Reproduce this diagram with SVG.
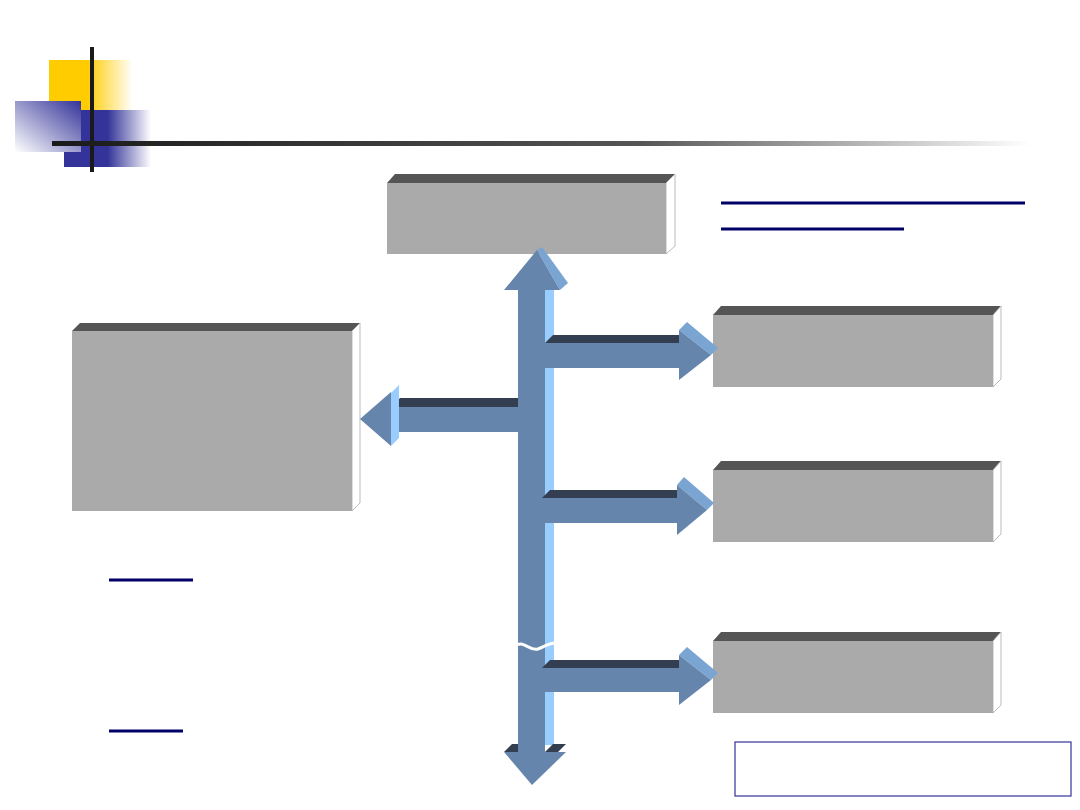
<svg xmlns="http://www.w3.org/2000/svg" width="1080" height="810" viewBox="0 0 1080 810">
<defs>
<linearGradient id="gY" x1="0" y1="0" x2="1" y2="0"><stop offset="0.45" stop-color="#FFCC00"/><stop offset="1" stop-color="#FFFFFF"/></linearGradient>
<linearGradient id="gB1" x1="1" y1="0" x2="0" y2="1"><stop offset="0" stop-color="#333399"/><stop offset="1" stop-color="#FFFFFF"/></linearGradient>
<linearGradient id="gB2" x1="0" y1="0" x2="1" y2="0"><stop offset="0.5" stop-color="#333399"/><stop offset="1" stop-color="#FFFFFF"/></linearGradient>
<linearGradient id="gL" x1="0" y1="0" x2="1" y2="0"><stop offset="0" stop-color="#1A1A1A"/><stop offset="0.6" stop-color="#555555"/><stop offset="1" stop-color="#FFFFFF"/></linearGradient>
<style>
.front{fill:#AAAAAA}
.top{fill:#555555}
.side{fill:#FFFFFF;stroke:#AAAAAA;stroke-width:0.8}
.af{fill:#6685AC}
.ad{fill:#333F50}
.al{fill:#7AA5D2}
.as{fill:#99CCFF}
.ul{stroke:#000066;stroke-width:3}
</style>
</defs>
<g id="logo">
<rect x="49" y="60" width="84" height="50" fill="url(#gY)"/>
<rect x="64" y="110" width="87" height="57" fill="url(#gB2)"/>
<rect x="15" y="101" width="66" height="51" fill="url(#gB1)"/>
<rect x="90" y="47" width="4" height="125" fill="#1A1A1A"/>
<rect x="52" y="141" width="978" height="5" fill="url(#gL)"/>
</g>
<g id="box-top">
<polygon class="top" points="387,183 395,174 675,174 666,183"/>
<polygon class="side" points="666,183 675,174 675,246 666,254"/>
<rect class="front" x="387" y="183" width="279" height="71"/>
</g>
<g id="box-left">
<polygon class="top" points="72,331 80,323 360,323 352,331"/>
<polygon class="side" points="352,331 360,323 360,503 352,511"/>
<rect class="front" x="72" y="331" width="280" height="180"/>
</g>
<g id="box-r1">
<polygon class="top" points="713,315 721,306 1001,306 993,315"/>
<polygon class="side" points="993,315 1001,306 1001,379 993,387"/>
<rect class="front" x="713" y="315" width="280" height="72"/>
</g>
<g id="box-r2">
<polygon class="top" points="713,470 721,461 1001,461 993,470"/>
<polygon class="side" points="993,470 1001,461 1001,534 993,542"/>
<rect class="front" x="713" y="470" width="280" height="72"/>
</g>
<g id="box-r3">
<polygon class="top" points="713,641 721,632 1001,632 993,641"/>
<polygon class="side" points="993,641 1001,632 1001,705 993,713"/>
<rect class="front" x="713" y="641" width="280" height="72"/>
</g>
<g id="links">
<line class="ul" x1="721" y1="203" x2="1025" y2="203"/>
<line class="ul" x1="721" y1="229" x2="904" y2="229"/>
<line class="ul" x1="109" y1="580" x2="193" y2="580"/>
<line class="ul" x1="109" y1="731" x2="183" y2="731"/>
</g>
<g id="note">
<rect x="735" y="742" width="336" height="54" fill="#FFFFFF" stroke="#333399" stroke-width="1.2"/>
</g>
<g id="connectors">
<rect class="as" x="545" y="290" width="9" height="455"/>
<rect class="af" x="518" y="288" width="27" height="464"/>
<polygon class="al" points="537,250 542,247 568,283 560,290"/>
<polygon class="af" points="504,290 537,250 560,290"/>
<polygon class="ad" points="504,752 512,744 518,744 518,752"/>
<polygon class="ad" points="545,752 553,744 566,744 558,752"/>
<polygon class="af" points="504,752 566,752 532,785"/>
<path d="M515,646 C523,639 530,652 538,649 S549,643 556,643" fill="none" stroke="#FFFFFF" stroke-width="3"/>
<polygon class="ad" points="392,407 400,398 518,398 518,407"/>
<rect class="af" x="391" y="407" width="127" height="25"/>
<polygon class="as" points="391,393 399,385 399,438 391,446"/>
<polygon class="af" points="360,419 391,392 391,446"/>
<polygon class="ad" points="545,343 553,335 680,335 680,343"/>
<rect class="af" x="545" y="343" width="135" height="25"/>
<polygon class="al" points="679,330 687,322 718,348 711,355"/>
<polygon class="af" points="679,330 711,355 679,380"/>
<polygon class="ad" points="542,498 550,490 677,490 677,498"/>
<rect class="af" x="542" y="498" width="135" height="25"/>
<polygon class="al" points="677,485 684,477 714,503 707,510"/>
<polygon class="af" points="677,485 707,510 677,535"/>
<polygon class="ad" points="542,668 550,660 679,660 679,668"/>
<rect class="af" x="542" y="668" width="137" height="24"/>
<polygon class="al" points="679,655 687,647 718,673 711,680"/>
<polygon class="af" points="679,655 711,680 679,705"/>
</g>
</svg>
